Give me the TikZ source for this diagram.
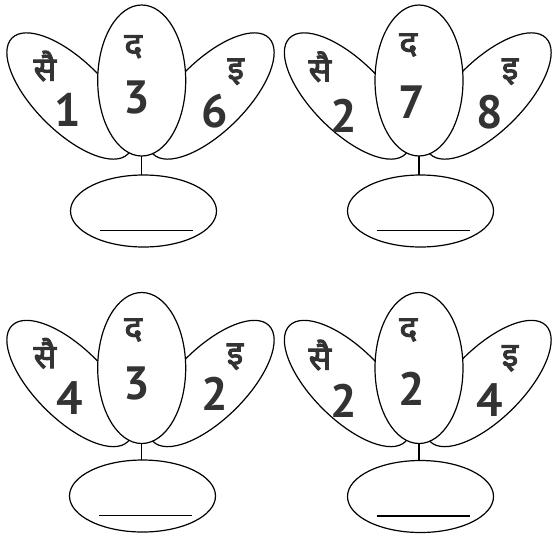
\documentclass[tikz,border=0pt]{standalone}
\usepackage{fontspec}
\newfontfamily\numfont{PT Sans}
\newfontfamily\hindifont[Script=Devanagari, AutoFakeBold=3]{Noto Sans}
\usetikzlibrary{shapes.geometric}

\begin{document}
\begin{tikzpicture}[x=0.75pt, y=-0.75pt, line width=0.9pt]
  \tikzstyle{petal}=[draw, ellipse, fill=white, minimum width=123pt, minimum height=53pt, inner sep=0pt, outer sep=0pt]
  \tikzstyle{core}=[draw, ellipse, fill=white, minimum width=66pt, minimum height=113.25pt, inner sep=0pt, outer sep=0pt]
  \tikzstyle{answer}=[draw, ellipse, minimum width=109.5pt, minimum height=54pt, inner sep=0pt, outer sep=0pt]
  \tikzstyle{num}=[font=\numfont\bfseries\fontsize{35}{35}\selectfont, text=black!80, inner sep=0pt]
  \tikzstyle{akshar}=[font=\hindifont\bfseries\fontsize{25}{25}\selectfont, text=black!80, inner sep=0pt]

  \useasboundingbox (0,0) rectangle (555,535);

  % ------- flower 1 (top left) -------
  \node[petal, rotate=-45] (petL1) at (70,96) {};
  \node[petal, rotate=45]  (petR1) at (211,96) {};
  \node[core]   (core1) at (141.7,80.5) {};
  \node[answer] (ans1)  at (143.5,211) {};
  \node[akshar] (sai1) at (45,66) {सै};
  \node[akshar] (da1)  at (133.3,46.7) {द};
  \node[akshar] (i1)   at (235.7,71.7) {इ};
  \node[num] (nL1) at (67.3,110) {1};
  \node[num] (nC1) at (136.7,97.3) {3};
  \node[num] (nR1) at (215,110.7) {6};

  % ------- flower 2 (top right) -------
  \node[petal, rotate=-45] (petL2) at (347.5,96) {};
  \node[petal, rotate=45]  (petR2) at (488,96) {};
  \node[core]   (core2) at (419,80.5) {};
  \node[answer] (ans2)  at (420.5,211) {};
  \node[akshar] (sai2) at (320,66.7) {सै};
  \node[akshar] (da2)  at (408.3,45) {द};
  \node[akshar] (i2)   at (510,71.7) {इ};
  \node[num] (nL2) at (343.3,115.7) {2};
  \node[num] (nC2) at (411.7,102.3) {7};
  \node[num] (nR2) at (490,112.3) {8};

  % ------- flower 3 (bottom left) -------
  \node[petal, rotate=-45] (petL3) at (70,383.5) {};
  \node[petal, rotate=45]  (petR3) at (211,383.5) {};
  \node[core]   (core3) at (141.7,368) {};
  \node[answer] (ans3)  at (142.5,496) {};
  \node[akshar] (sai3) at (45,353.3) {सै};
  \node[akshar] (da3)  at (133.3,330) {द};
  \node[akshar] (i3)   at (235,356.7) {इ};
  \node[num] (nL3) at (69.7,398.3) {4};
  \node[num] (nC3) at (136.7,383.3) {3};
  \node[num] (nR3) at (215,394) {2};

  % ------- flower 4 (bottom right) -------
  \node[petal, rotate=-45] (petL4) at (347.5,383.5) {};
  \node[petal, rotate=45]  (petR4) at (488,383.5) {};
  \node[core]   (core4) at (419,368) {};
  \node[answer] (ans4)  at (420.5,496.5) {};
  \node[akshar] (sai4) at (320,355) {सै};
  \node[akshar] (da4)  at (408.3,330) {द};
  \node[akshar] (i4)   at (510,358.3) {इ};
  \node[num] (nL4) at (343.3,400.7) {2};
  \node[num] (nC4) at (411.7,389) {2};
  \node[num] (nR4) at (490,400) {4};

  % ------- stems -------
  \draw (core1.south) -- (core1.south |- ans1.north);
  \draw (core2.south) -- (core2.south |- ans2.north);
  \draw (core3.south) -- (core3.south |- ans3.north);
  \draw (core4.south) -- (core4.south |- ans4.north);

  % answer lines
  \draw ([shift={(-44,19.5)}]ans1.center) -- ([shift={(49.5,19.5)}]ans1.center);
  \draw ([shift={(-44,19.5)}]ans2.center) -- ([shift={(49.5,19.5)}]ans2.center);
  \draw ([shift={(-44,19.5)}]ans3.center) -- ([shift={(49.5,19.5)}]ans3.center);
  \draw ([shift={(-44,19.5)}]ans4.center) -- ([shift={(49.5,19.5)}]ans4.center);
\end{tikzpicture}
\end{document}
